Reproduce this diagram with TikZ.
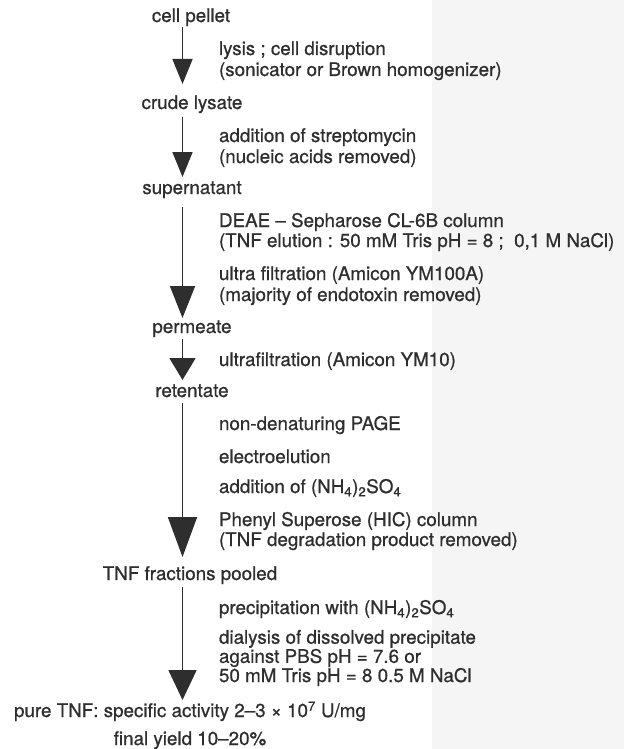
\documentclass[tikz,border=0pt]{standalone}
\usepackage{fontspec}
\setmainfont{TeX Gyre Heros}[FakeBold=0.7]
\usetikzlibrary{arrows.meta}
\definecolor{ink}{HTML}{2E2E2E}
\definecolor{scan}{HTML}{F5F5F5}
\begin{document}
\begin{tikzpicture}[x=1pt,y=-1pt,
  every node/.style={text=ink, inner sep=0pt, outer sep=0pt},
  stage/.style={font=\fontsize{18.8}{21}\selectfont, anchor=base, text height=13.5pt, text depth=4pt},
  note/.style={font=\fontsize{18.8}{21}\selectfont, anchor=base west, align=left},
  flow/.style={draw=ink, line width=1.7pt}]
\useasboundingbox (0,0) rectangle (624,749);
\fill[white] (0,0) rectangle (624,749);
\fill[scan] (432,0) rectangle (624,749);
\coordinate (ax) at (182.5,0);
% stages
\node[stage] (cp) at (191,22) {cell pellet};
\node[stage] (cl) at (192,109) {crude lysate};
\node[stage] (sn) at (192,194) {supernatant};
\node[stage] (pm) at (192,333) {permeate};
\node[stage] (rt) at (192,397) {retentate};
\node[stage] (tf) at (190,580) {TNF fractions pooled};
\node[stage] (pt) at (190,717) {pure TNF: specific activity 2–3 × 10\textsuperscript{7} U/mg};
\node[stage] (fy) at (190,745) {final yield 10–20\%};
% notes (base anchor = baseline of the last line)
\node[note] (n1) at (219,76) {lysis ; cell disruption\\(sonicator or Brown homogenizer)};
\node[note] (n2) at (219,163) {addition of streptomycin\\(nucleic acids removed)};
\node[note, font=\fontsize{18.8}{20}\selectfont] (n3) at (219,247) {DEAE – Sepharose CL-6B column\\(TNF elution : 50 mM Tris pH = 8 ;\ \ 0,1 M NaCl)};
\node[note] (n4) at (219,301) {ultra filtration (Amicon YM100A)\\(majority of endotoxin removed)};
\node[note] (n5) at (219,366) {ultrafiltration (Amicon YM10)};
\node[note] (n6) at (219,430) {non-denaturing PAGE};
\node[note] (n7) at (219,463) {electroelution};
\node[note] (n8) at (219,493) {addition of (NH\textsubscript{4})\textsubscript{2}SO\textsubscript{4}};
\node[note, font=\fontsize{18.8}{20}\selectfont] (n9) at (219,546) {Phenyl Superose (HIC) column\\(TNF degradation product removed)};
\node[note] (n10) at (219,614) {precipitation with (NH\textsubscript{4})\textsubscript{2}SO\textsubscript{4}};
\node[note, font=\fontsize{18.8}{16.8}\selectfont] (n11) at (219,682) {dialysis of dissolved precipitate\\against PBS pH = 7.6 or\\50 mM Tris pH = 8 0.5 M NaCl};
% arrows
\draw[flow, -{Triangle[width=20pt,length=25pt]}, shorten <=1pt, shorten >=11.5pt] (cp.south -| ax) -- (cl.north -| ax);
\draw[flow, -{Triangle[width=20pt,length=25pt]}, shorten <=4pt, shorten >=3.5pt] (cl.south -| ax) -- (sn.north -| ax);
\draw[flow, -{Triangle[width=25pt,length=32pt]}, shorten <=9pt, shorten >=1.5pt] (sn.south -| ax) -- (pm.north -| ax);
\draw[flow, -{Triangle[width=26pt,length=22pt]}, shorten <=2pt, shorten >=3.5pt] (pm.south -| ax) -- (rt.north -| ax);
\draw[flow, -{Triangle[width=29pt,length=40pt]}, shorten <=2pt, shorten >=9.5pt] (rt.south -| ax) -- (tf.north -| ax);
\draw[flow, -{Triangle[width=28pt,length=30pt]}, shorten <=3pt, shorten >=3.5pt] (tf.south -| ax) -- (pt.north -| ax);
\end{tikzpicture}
\end{document}
